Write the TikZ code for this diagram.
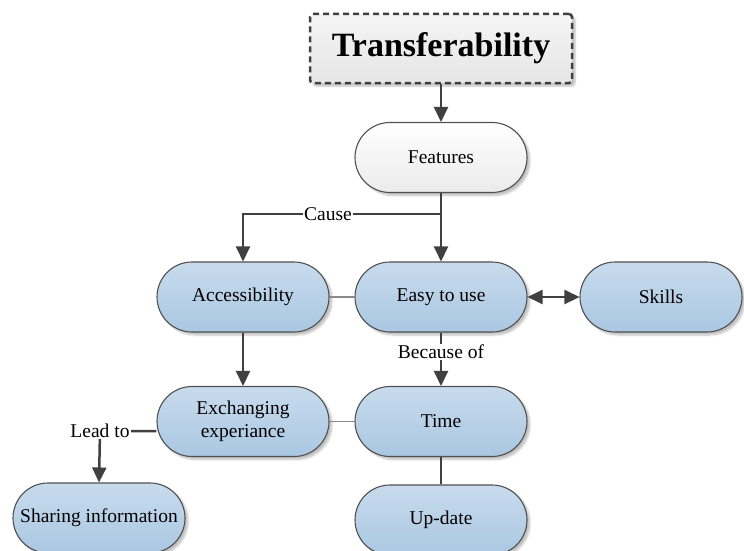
\documentclass[tikz,border=0pt]{standalone}
\usepackage{fontspec}
\setmainfont{Liberation Serif}
\usetikzlibrary{arrows.meta,shadows.blur}
\definecolor{edge}{HTML}{404040}
\definecolor{rim}{HTML}{505050}
\definecolor{bluetop}{HTML}{C8DBED}
\definecolor{bluebot}{HTML}{AAC7E2}
\definecolor{linkgray}{HTML}{8A8A8A}
\tikzset{
  pill/.style={rectangle, rounded corners=35pt, minimum width=172pt, minimum height=70pt,
    inner sep=0pt, draw=rim, line width=1.1pt, align=center,
    top color=bluetop, bottom color=bluebot,
    blur shadow={shadow xshift=3pt, shadow yshift=-3pt, shadow blur steps=6, shadow opacity=25},
    font=\fontsize{19.5}{23}\selectfont},
  whitepill/.style={pill, top color=white, bottom color=black!8},
  titlebox/.style={rectangle, rounded corners=3pt, minimum width=262pt, minimum height=69pt,
    draw=edge, line width=2.5pt, dash pattern=on 6pt off 4pt,
    top color=black!4, bottom color=black!10,
    blur shadow={shadow xshift=3pt, shadow yshift=-3pt, shadow blur steps=6, shadow opacity=25},
    font=\fontsize{34}{40}\selectfont\bfseries},
  conn/.style={draw=edge, line width=2.5pt, -{Triangle[length=15pt,width=14pt]}},
  bothconn/.style={draw=edge, line width=2.5pt, {Triangle[length=15pt,width=14pt]}-{Triangle[length=15pt,width=14pt]}},
  plainconn/.style={draw=edge, line width=2.5pt},
  softlink/.style={draw=linkgray, line width=1.4pt},
  lbl/.style={fill=white, inner sep=1pt, font=\fontsize{19.5}{23}\selectfont}
}
\begin{document}
\begin{tikzpicture}[x=1pt, y=-1pt]
  \useasboundingbox (0,0) rectangle (744,551);

  % boxes
  \node[titlebox] (trans) at (441,48.5) {Transferability};
  \node[whitepill] (feat) at (441,157.5) {Features};
  \node[pill] (acc) at (243,297) {Accessibility};
  \node[pill] (easy) at (441,297) {Easy to use};
  \node[pill, minimum width=162pt] (skills) at (661,297) {Skills};
  \node[pill] (exch) at (243,421.5) {Exchanging\\experiance};
  \node[pill] (time) at (441,421.5) {Time};
  \node[pill] (share) at (99,518) {Sharing information};
  \node[pill] (up) at (441,520) {Up-date};

  % helper points for the elbow connectors
  \coordinate (split) at (441,214);
  \coordinate (leadc) at (100,431);

  % connectors
  \draw[conn] (trans.south) -- (feat.north);
  \draw[conn] (feat.south) -- (easy.north);
  \draw[conn] (split) -| (acc.north);
  \node[lbl] (cause) at (328,214) {Cause};

  \draw[bothconn] (easy.east) -- (skills.west);

  \draw[softlink] (acc.east) -- (easy.west);
  \draw[softlink] (exch.east) -- (time.west);

  \draw[conn] (easy.south) -- (time.north);
  \node[lbl] (because) at (441,352) {Because of};

  \draw[conn] (acc.south) -- (exch.north);

  \draw[conn] (exch.west |- leadc) -- (leadc) -- (share.north);
  \node[lbl] (lead) at (leadc) {Lead to};

  \draw[plainconn] (time.south) -- (up.north);
\end{tikzpicture}
\end{document}
